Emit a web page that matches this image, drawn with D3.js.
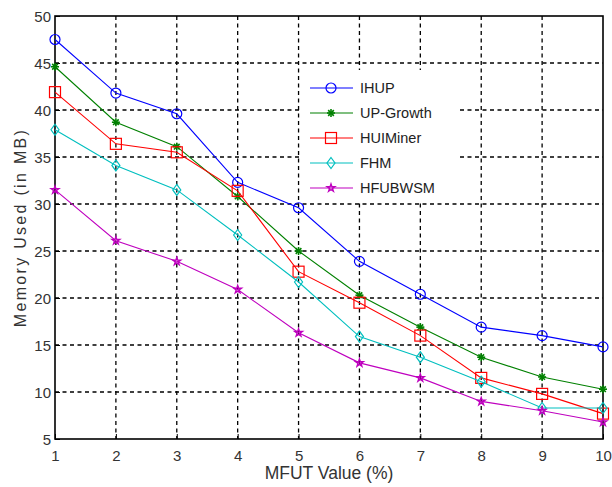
<!DOCTYPE html>
<html>
<head>
<meta charset="utf-8">
<script src="https://cdn.jsdelivr.net/npm/d3@7"></script>
<style>
  html, body { margin: 0; padding: 0; background: #fff; }
  svg { display: block; font-family: "Liberation Sans", Arial, sans-serif; }
</style>
</head>
<body>
<svg id="chart" width="612" height="487"></svg>
<script>
// Memory usage per algorithm across MFUT thresholds
const mfut = [1, 2, 3, 4, 5, 6, 7, 8, 9, 10];
const ihup     = [47.5, 41.8, 39.6, 32.3, 29.6, 23.9, 20.4, 16.9, 16.0, 14.8];
const upGrowth = [44.6, 38.7, 36.1, 30.8, 25.0, 20.3, 16.9, 13.7, 11.6, 10.3];
const huiMiner = [41.9, 36.4, 35.5, 31.4, 22.8, 19.5, 16.0, 11.5, 9.8, 7.7];
const fhm      = [37.9, 34.1, 31.5, 26.7, 21.7, 15.9, 13.7, 11.1, 8.3, 8.3];
const hfubwsm  = [31.5, 26.1, 23.9, 20.9, 16.3, 13.1, 11.5, 9.0, 8.0, 6.8];
const xTicks = [1, 2, 3, 4, 5, 6, 7, 8, 9, 10];
const yTicks = [5, 10, 15, 20, 25, 30, 35, 40, 45, 50];

const series = [
  { name: "IHUP",      values: ihup,     color: "#0000ff", marker: "circle" },
  { name: "UP-Growth", values: upGrowth, color: "#008000", marker: "asterisk" },
  { name: "HUIMiner",  values: huiMiner, color: "#ff0000", marker: "square" },
  { name: "FHM",       values: fhm,      color: "#00bfbf", marker: "diamond" },
  { name: "HFUBWSM",   values: hfubwsm,  color: "#bf00bf", marker: "star" }
];

const svg = d3.select("#chart");
const L = 55, R = 603, T = 16, B = 439;

const x = d3.scaleLinear().domain([1, 10]).range([L, R]);
const y = d3.scaleLinear().domain([5, 50]).range([B, T]);

// dashed grid
const grid = svg.append("g").attr("stroke", "#000").attr("stroke-width", 1.3)
  .attr("stroke-dasharray", "4,3.5");
grid.selectAll(".gx").data(xTicks.slice(1, -1)).join("line")
  .attr("x1", d => x(d)).attr("x2", d => x(d)).attr("y1", T).attr("y2", B);
grid.selectAll(".gy").data(yTicks.slice(1, -1)).join("line")
  .attr("x1", L).attr("x2", R).attr("y1", d => y(d)).attr("y2", d => y(d));

// axes with inward ticks
const xAxis = svg.append("g").attr("transform", `translate(0,${B})`)
  .call(d3.axisBottom(x).tickValues(xTicks).tickSize(-5).tickPadding(11).tickFormat(d3.format("d")));
const yAxis = svg.append("g").attr("transform", `translate(${L},0)`)
  .call(d3.axisLeft(y).tickValues(yTicks).tickSize(-5).tickPadding(4).tickFormat(d3.format("d")));
[xAxis, yAxis].forEach(a => {
  a.select(".domain").remove();
  a.selectAll("line").attr("stroke", "#000").attr("stroke-width", 1);
  a.selectAll("text").attr("fill", "#333").style("font-size", "15px");
});
yAxis.selectAll("text").attr("dy", "0.35em");

// box
svg.append("rect").attr("x", L).attr("y", T).attr("width", R - L).attr("height", B - T)
  .attr("fill", "none").attr("stroke", "#000").attr("stroke-width", 1.6);

// marker shapes
function drawMarker(g, type, color, cx, cy) {
  const m = g.append("g").attr("transform", `translate(${cx},${cy})`)
    .attr("fill", "none").attr("stroke", color).attr("stroke-width", 1.2);
  if (type === "circle") {
    m.append("circle").attr("r", 5);
  } else if (type === "square") {
    m.append("rect").attr("x", -5.5).attr("y", -5.5).attr("width", 11).attr("height", 11);
  } else if (type === "diamond") {
    m.append("path").attr("d", "M0,-5.5L4,0L0,5.5L-4,0Z");
  } else if (type === "asterisk") {
    const r = 4;
    [0, 45, 90, 135].forEach(a => {
      const rad = a * Math.PI / 180;
      m.append("line").attr("x1", -r * Math.cos(rad)).attr("y1", -r * Math.sin(rad))
        .attr("x2", r * Math.cos(rad)).attr("y2", r * Math.sin(rad)).attr("stroke-width", 1.6);
    });
  } else if (type === "star") {
    m.append("path").attr("d", d3.symbol(d3.symbolStar, 18)()).attr("stroke-width", 1.4);
  }
}

const line = d3.line().x((d, i) => x(mfut[i])).y(d => y(d));
const plot = svg.append("g");
series.forEach(s => {
  plot.append("path").datum(s.values).attr("d", line)
    .attr("fill", "none").attr("stroke", s.color).attr("stroke-width", 1.1);
  s.values.forEach((v, i) => drawMarker(plot, s.marker, s.color, x(mfut[i]), y(v)));
});

// legend
const lg = svg.append("g");
lg.append("rect").attr("x", 300).attr("y", 70).attr("width", 160).attr("height", 132).attr("fill", "#fff");
series.forEach((s, i) => {
  const ly = 88 + i * 25;
  lg.append("line").attr("x1", 310).attr("x2", 353).attr("y1", ly).attr("y2", ly)
    .attr("stroke", s.color).attr("stroke-width", 1.2);
  drawMarker(lg, s.marker, s.color, 331, ly);
  lg.append("text").attr("x", 360).attr("y", ly).attr("dy", "0.36em")
    .attr("fill", "#222").style("font-size", "14.5px").text(s.name);
});

// axis titles
svg.append("text").attr("x", (L + R) / 2).attr("y", 479).attr("text-anchor", "middle")
  .attr("fill", "#333").style("font-size", "17.5px").text("MFUT Value (%)");
svg.append("text").attr("transform", `translate(26,${(T + B) / 2}) rotate(-90)`)
  .attr("text-anchor", "middle").attr("fill", "#333").style("font-size", "16px")
  .style("letter-spacing", "2.3px").text("Memory Used (in MB)");
</script>
</body>
</html>
